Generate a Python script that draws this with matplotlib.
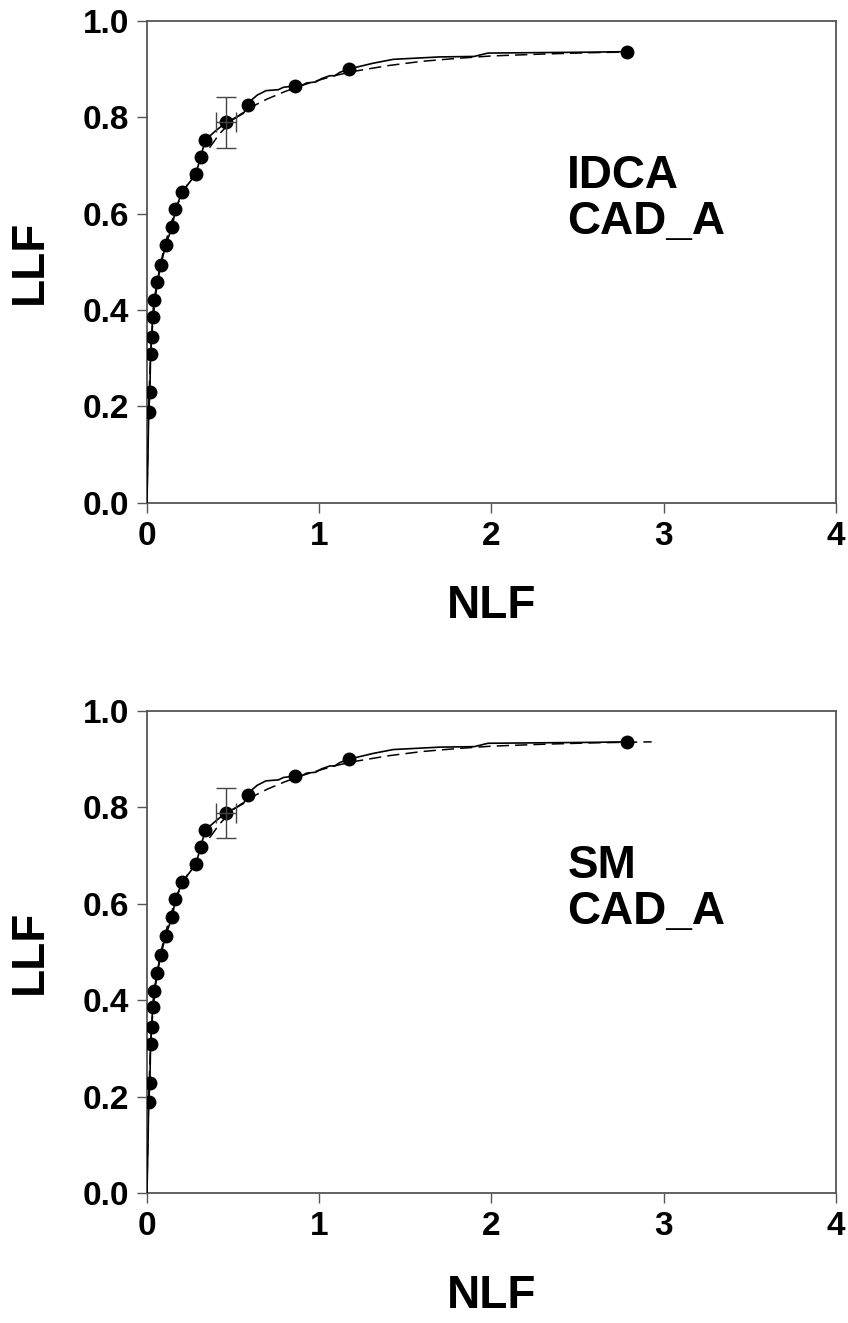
import matplotlib
matplotlib.use("Agg")
import matplotlib.pyplot as plt

plt.rcParams['font.family'] = ['Liberation Sans', 'DejaVu Sans']
plt.rcParams['font.weight'] = 'bold'

# Operating points (binned), same for both panels
pts_nlf = [0.010, 0.017, 0.021, 0.027, 0.033, 0.041, 0.060, 0.081, 0.108, 0.147,
           0.165, 0.205, 0.284, 0.312, 0.339, 0.459, 0.588, 0.861, 1.173, 2.787]
pts_llf = [0.188, 0.229, 0.309, 0.344, 0.385, 0.420, 0.457, 0.494, 0.534, 0.573,
           0.609, 0.645, 0.682, 0.718, 0.753, 0.789, 0.826, 0.865, 0.900, 0.936]

# Empirical (solid, stepped) curve
emp_nlf = [0, 0.006, 0.010, 0.017, 0.021, 0.027, 0.033, 0.041, 0.060, 0.081, 0.108,
           0.147, 0.165, 0.205, 0.284, 0.312, 0.339, 0.40, 0.459, 0.52, 0.56, 0.588,
           0.608, 0.641, 0.691, 0.763, 0.792, 0.861, 0.90, 0.927, 0.98, 1.014, 1.062,
           1.09, 1.12, 1.173, 1.314, 1.43, 1.70, 1.90, 1.98, 2.61, 2.787]
emp_llf = [0, 0.10, 0.188, 0.229, 0.309, 0.344, 0.385, 0.420, 0.457, 0.494, 0.534,
           0.573, 0.609, 0.645, 0.682, 0.718, 0.753, 0.772, 0.789, 0.800, 0.808, 0.826,
           0.836, 0.846, 0.855, 0.857, 0.862, 0.865, 0.866, 0.871, 0.873, 0.880, 0.886,
           0.886, 0.893, 0.900, 0.912, 0.920, 0.925, 0.926, 0.933, 0.935, 0.936]

# Fitted (dashed) curve
fit_nlf = [0, 0.004, 0.008, 0.012, 0.018, 0.025, 0.035, 0.05, 0.07, 0.1, 0.14, 0.19,
           0.25, 0.3, 0.36, 0.42, 0.5, 0.6, 0.7, 0.8, 0.9, 1.0, 1.1, 1.2, 1.4, 1.6,
           1.8, 2.0, 2.3, 2.6, 2.78, 2.93]
fit_llf = [0, 0.10, 0.17, 0.22, 0.28, 0.33, 0.38, 0.43, 0.48, 0.53, 0.58, 0.63,
           0.67, 0.70, 0.735, 0.765, 0.795, 0.82, 0.838, 0.853, 0.866, 0.877, 0.887,
           0.895, 0.907, 0.916, 0.922, 0.927, 0.931, 0.934, 0.935, 0.936]
fit_end = [2.78, 2.93]   # top panel fit stops at first value, bottom at second

# Error bar on one operating point
err_x, err_y = 0.459, 0.789
err_xerr, err_yerr = 0.060, 0.052

panel_labels = ["IDCA\nCAD_A", "SM\nCAD_A"]
x_ticks = [0, 1, 2, 3, 4]
y_ticks = [0.0, 0.2, 0.4, 0.6, 0.8, 1.0]

fig = plt.figure(figsize=(8.48, 13.23), dpi=100)
positions = [[0.1733, 0.620, 0.8125, 0.3643], [0.1733, 0.0983, 0.8125, 0.3643]]
spine_col = '#555555'

for i, pos in enumerate(positions):
    ax = fig.add_axes(pos)
    fx = [x for x in fit_nlf if x <= fit_end[i] + 1e-9]
    fy = fit_llf[:len(fx)]
    ax.plot(fx, fy, color='black', lw=1.1, linestyle=(0, (8, 4)), zorder=2)
    ax.plot(emp_nlf, emp_llf, color='black', lw=1.2, zorder=3)
    ax.plot(pts_nlf, pts_llf, 'o', color='black', markersize=9, zorder=4)
    ax.errorbar([err_x], [err_y], xerr=[err_xerr], yerr=[err_yerr], fmt='none',
                ecolor='#444444', elinewidth=1.0, capsize=7, capthick=1.0, zorder=5)
    ax.set_xlim(0, 4)
    ax.set_ylim(0, 1.0)
    ax.set_xticks(x_ticks)
    ax.set_yticks(y_ticks)
    ax.set_xticklabels([str(t) for t in x_ticks])
    ax.set_yticklabels([f"{t:.1f}" for t in y_ticks])
    for s in ax.spines.values():
        s.set_color(spine_col)
        s.set_linewidth(1.3)
    ax.tick_params(direction='out', length=7, width=1.0, color=spine_col,
                   labelsize=24, pad=6)
    for lab in ax.get_xticklabels() + ax.get_yticklabels():
        lab.set_fontweight('bold')
    ax.set_xlabel("NLF", fontsize=33, fontweight='bold')
    ax.set_ylabel("LLF", fontsize=33, fontweight='bold')
    ax.xaxis.set_label_coords(0.5, -0.168)
    ax.yaxis.set_label_coords(-0.138, 0.5)
    ax.text(2.44, 0.63, panel_labels[i], fontsize=33, fontweight='bold',
            va='center', ha='left', linespacing=1.05)

fig.savefig("out.png", dpi=100)
